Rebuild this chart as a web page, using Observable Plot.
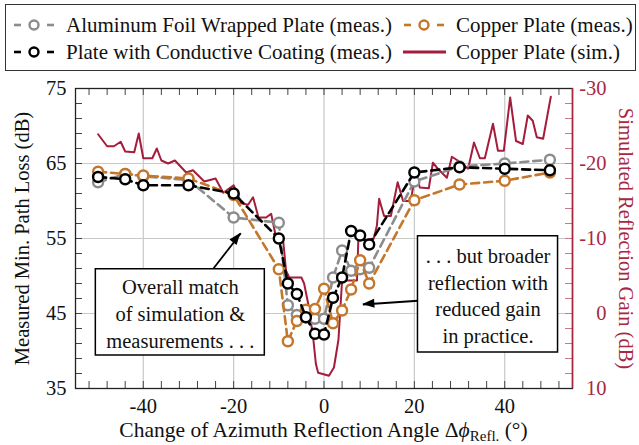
<!DOCTYPE html>
<html><head><meta charset="utf-8">
<script src="https://cdn.jsdelivr.net/npm/d3@7"></script>
<script src="https://cdn.jsdelivr.net/npm/@observablehq/plot@0.6"></script>
<style>
body{margin:0;background:#fff;font-family:"Liberation Serif","Times New Roman",Times,"DejaVu Serif",serif;}
#wrap{width:639px;height:445px;position:relative;overflow:hidden;background:#fff}
#legend{position:absolute;left:5px;top:4px;width:631px;height:67px;border:1px solid #333;box-sizing:border-box;}
.item{position:absolute;display:flex;align-items:center;font-size:21px;height:26px;white-space:nowrap;color:#111}
.item svg{margin-right:8px}
#chart{position:absolute;left:0;top:78px}
#chart svg, #chart svg text{font-family:"Liberation Serif","Times New Roman",Times,"DejaVu Serif",serif !important;}
</style></head>
<body><div id="wrap"><div id="legend"></div><div id="chart"></div></div>
<script>
// ---- data ----
const measAngles = [-50,-44,-40,-30,-20,-10,-8,-6,-4,-2,0,2,4,6,8,10,20,30,40,50];
const aluminumMeas = [62.5,63.6,63.3,62.8,57.8,57.1,46.1,44.8,44.5,44.3,44.3,49.8,53.4,50.7,50.9,51.1,62.6,64.6,65.0,65.5];
const copperMeas   = [63.9,63.6,63.4,63.0,60.8,50.9,41.3,44.0,45.5,45.6,48.3,43.7,45.4,48.2,52.1,49.0,60.1,62.2,62.7,63.8];
const coatingMeas  = [63.2,62.9,62.1,62.1,61.0,55.0,49.0,47.6,44.5,42.3,42.2,47.1,49.8,56.0,55.4,54.2,63.8,64.5,64.3,64.1];

const simAngles = [-50,-48,-46.5,-45,-44,-42,-41,-40,-38,-37,-36,-34.5,-33,-30.5,-29,-26.5,-24,-22.3,-20,-18.3,-16.8,-15.7,-14.5,-12.8,-11.7,-10.6,-9,-8.4,-7.7,-5,-4.4,-3.5,-2.4,-1.8,-1.3,1.1,2.2,3.2,4.0,7.3,7.6,9.3,11.0,11.7,12.2,13.3,14.8,16.3,17.5,19.2,20.3,21.2,23.2,24.1,25.2,27.2,28.3,29.6,31.9,33.2,34.5,35.6,37.4,38.5,39.8,41.2,42.5,44.0,45.1,46.2,47.1,48.5,50.2];
const simGain = [-23.9,-22.3,-22.3,-22.9,-21.6,-21.5,-24.0,-20.7,-20.7,-22.0,-20.4,-20.0,-20.4,-18.8,-19.1,-17.6,-18.0,-16.1,-17.1,-14.7,-14.5,-15.5,-12.8,-12.8,-13.3,-10.1,-9.5,-5.7,-4.8,-4.8,-4.0,-1.3,3.2,6.7,7.9,8.3,7.2,3.5,-4.4,-4.4,-9.8,-9.8,-10.0,-11.7,-15.3,-13.0,-13.0,-17.5,-15.0,-15.0,-19.0,-16.8,-16.7,-20.1,-19.3,-18.1,-20.9,-20.4,-19.3,-22.8,-20.7,-20.7,-25.3,-21.7,-21.7,-28.8,-23.0,-22.6,-26.4,-25.7,-23.5,-23.3,-28.9];

const xDomain = [-55, 55];
const plDomain = [35, 75];
const gainDomain = [10, -30];
const xMajorTicks = [-40, -20, 0, 20, 40];
const plTicks = [35, 45, 55, 65, 75];
const gainTicks = [-30, -20, -10, 0, 10];

const seriesNames = ["Aluminum Foil Wrapped Plate (meas.)", "Copper Plate (meas.)", "Plate with Conductive Coating (meas.)", "Copper Plate (sim.)"];
const leftTitle = "Measured Min. Path Loss (dB)";
const rightTitle = "Simulated Reflection Gain (dB)";

const annotBoxes = [
  {x1: -50.5, x2: -13.1, y1: 39.4, y2: 50.9, text: "Overall match\nof simulation &\nmeasurements . . ."},
  {x1: 20.8, x2: 51.8, y1: 39.8, y2: 55.3, text: ". . . but broader\nreflection with\nreduced gain\nin practice."}
];
const annotArrows = [
  {x1: -24.6, y1: 50.9, x2: -18.4, y2: 55.7},
  {x1: 20.8, y1: 46.7, x2: 8.6, y2: 46.2}
];

// ---- styling ----
const FONT = "Liberation Serif, Times New Roman, Times, DejaVu Serif, serif";
const GRAY = "#8c8c8c", ORANGE = "#c4762a", BLACK = "#000", RED = "#a51d3c", RED_AX = "#a8283f";
const W = 639, H = 367, mL = 75, mR = 67, mT = 10, mB = 57;
const innerW = W - mL - mR, innerH = H - mT - mB;

const g2pl = d3.scaleLinear(gainDomain, plDomain);

const mk = vals => measAngles.map((a, i) => ({a, v: vals[i]}));
const alu = mk(aluminumMeas), cop = mk(copperMeas), coat = mk(coatingMeas);
const sim = simAngles.map((a, i) => ({a, v: g2pl(simGain[i])}));

const xMinor = d3.range(-52, 53, 4);
const plMinor = d3.range(35, 76, 2);
const gainMinor = d3.range(-30, 11, 2);

function measMarks(data, color) {
  return [
    Plot.line(data, {x: "a", y: "v", stroke: color, strokeWidth: 2.6, strokeDasharray: "8,5"}),
    Plot.dot(data, {x: "a", y: "v", r: 5, stroke: color, strokeWidth: 2.4, fill: "white"})
  ];
}

const plot = Plot.plot({
  width: W, height: H,
  marginLeft: mL, marginRight: mR, marginTop: mT, marginBottom: mB,
  x: {domain: xDomain, label: null},
  y: {domain: plDomain, label: null},
  style: {fontFamily: FONT, fontSize: "20px", background: "white", color: "#111"},
  marks: [
    Plot.ruleX(xMajorTicks, {stroke: "#c8c8c8", strokeWidth: 1.2}),
    Plot.ruleY(plTicks, {stroke: "#c8c8c8", strokeWidth: 1.2}),
    Plot.line(sim, {x: "a", y: "v", stroke: RED, strokeWidth: 2}),
    ...measMarks(alu, GRAY),
    ...measMarks(cop, ORANGE),
    ...measMarks(coat, BLACK),
    Plot.link(annotArrows, {x1: "x1", y1: "y1", x2: "x2", y2: "y2", stroke: "black", strokeWidth: 1.8}),
    Plot.rect(annotBoxes, {x1: "x1", x2: "x2", y1: "y1", y2: "y2", fill: "white", stroke: "black", strokeWidth: 1.5}),
    Plot.text(annotBoxes, {x: d => (d.x1 + d.x2) / 2, y: d => (d.y1 + d.y2) / 2, text: "text", lineHeight: 1.3, fontSize: 20.5, fill: "#111"}),
    Plot.tickX(xMinor, {x: d => d, insetTop: innerH - 7, stroke: "#444"}),
    Plot.tickX(xMinor, {x: d => d, insetBottom: innerH - 7, stroke: "#444"}),
    Plot.tickY(plMinor, {y: d => d, insetRight: innerW - 7, stroke: "#444"}),
    Plot.tickY(gainMinor, {y: d => g2pl(d), insetLeft: innerW - 7, stroke: "#c8788a"}),
    Plot.frame({stroke: "#222", strokeWidth: 1.3}),
    Plot.ruleX(xDomain.slice(1), {stroke: RED_AX, strokeWidth: 1.5}),
    Plot.axisX({ticks: xMajorTicks, tickSize: 0, tickPadding: 10, tickFormat: d => String(d), fontSize: 20.5, label: null}),
    Plot.axisY({ticks: plTicks, tickSize: 0, tickPadding: 9, tickFormat: d => String(d), fontSize: 20.5, label: null}),
    Plot.text(gainTicks, {y: d => g2pl(d), text: d => String(d), frameAnchor: "right", dx: 34, textAnchor: "end", fill: RED_AX, fontSize: 20.5}),
    Plot.text([leftTitle], {frameAnchor: "left", textAnchor: "middle", rotate: -90, dx: -53, text: d => d, fontSize: 20.5, fill: "#111"}),
    Plot.text([rightTitle], {frameAnchor: "right", textAnchor: "middle", rotate: 90, dx: 53, text: d => d, fontSize: 20.5, fill: RED_AX})
  ]
});
document.getElementById("chart").appendChild(plot);

const svg = d3.select(plot);
const xs = plot.scale("x"), ys = plot.scale("y");

// filled arrowheads, positioned through the plot's scales
annotArrows.forEach(a => {
  const px1 = xs.apply(a.x1), py1 = ys.apply(a.y1), px2 = xs.apply(a.x2), py2 = ys.apply(a.y2);
  const ang = Math.atan2(py2 - py1, px2 - px1), L = 12, Wd = 4.5;
  const bx = px2 - L * Math.cos(ang), by = py2 - L * Math.sin(ang);
  const nx = -Math.sin(ang) * Wd, ny = Math.cos(ang) * Wd;
  svg.append("polygon")
    .attr("points", `${px2},${py2} ${bx + nx},${by + ny} ${bx - nx},${by - ny}`)
    .attr("fill", "black");
});

// x-axis title with subscript
const t = svg.append("text")
  .attr("x", xs.apply(0)).attr("y", H - 8)
  .attr("text-anchor", "middle").attr("font-size", 21.5).attr("fill", "#111")
  .attr("font-family", FONT);
t.append("tspan").text("Change of Azimuth Reflection Angle Δ");
t.append("tspan").attr("font-style", "italic").text("ϕ");
t.append("tspan").attr("font-size", 15).attr("dy", 4).text("Refl.");
t.append("tspan").attr("dy", -4).text(" (°)");

// legend
const legendColors = [GRAY, ORANGE, BLACK, RED];
const legendPos = [[4, 7], [394, 7], [4, 34], [394, 34]];
const leg = d3.select("#legend");
seriesNames.forEach((name, i) => {
  const it = leg.append("div").attr("class", "item")
    .style("left", legendPos[i][0] + "px").style("top", legendPos[i][1] + "px");
  const s = it.append("svg").attr("width", 48).attr("height", 20);
  const c = legendColors[i];
  if (i === 3) {
    s.append("line").attr("x1", 3).attr("x2", 46).attr("y1", 10).attr("y2", 10).attr("stroke", c).attr("stroke-width", 3);
  } else {
    s.append("line").attr("x1", 4).attr("x2", 11).attr("y1", 10).attr("y2", 10).attr("stroke", c).attr("stroke-width", 2.6);
    s.append("line").attr("x1", 37).attr("x2", 44).attr("y1", 10).attr("y2", 10).attr("stroke", c).attr("stroke-width", 2.6);
    s.append("circle").attr("cx", 24).attr("cy", 10).attr("r", 4.5).attr("fill", "white").attr("stroke", c).attr("stroke-width", 2.4);
  }
  it.append("span").text(name);
});
</script>
</body></html>
